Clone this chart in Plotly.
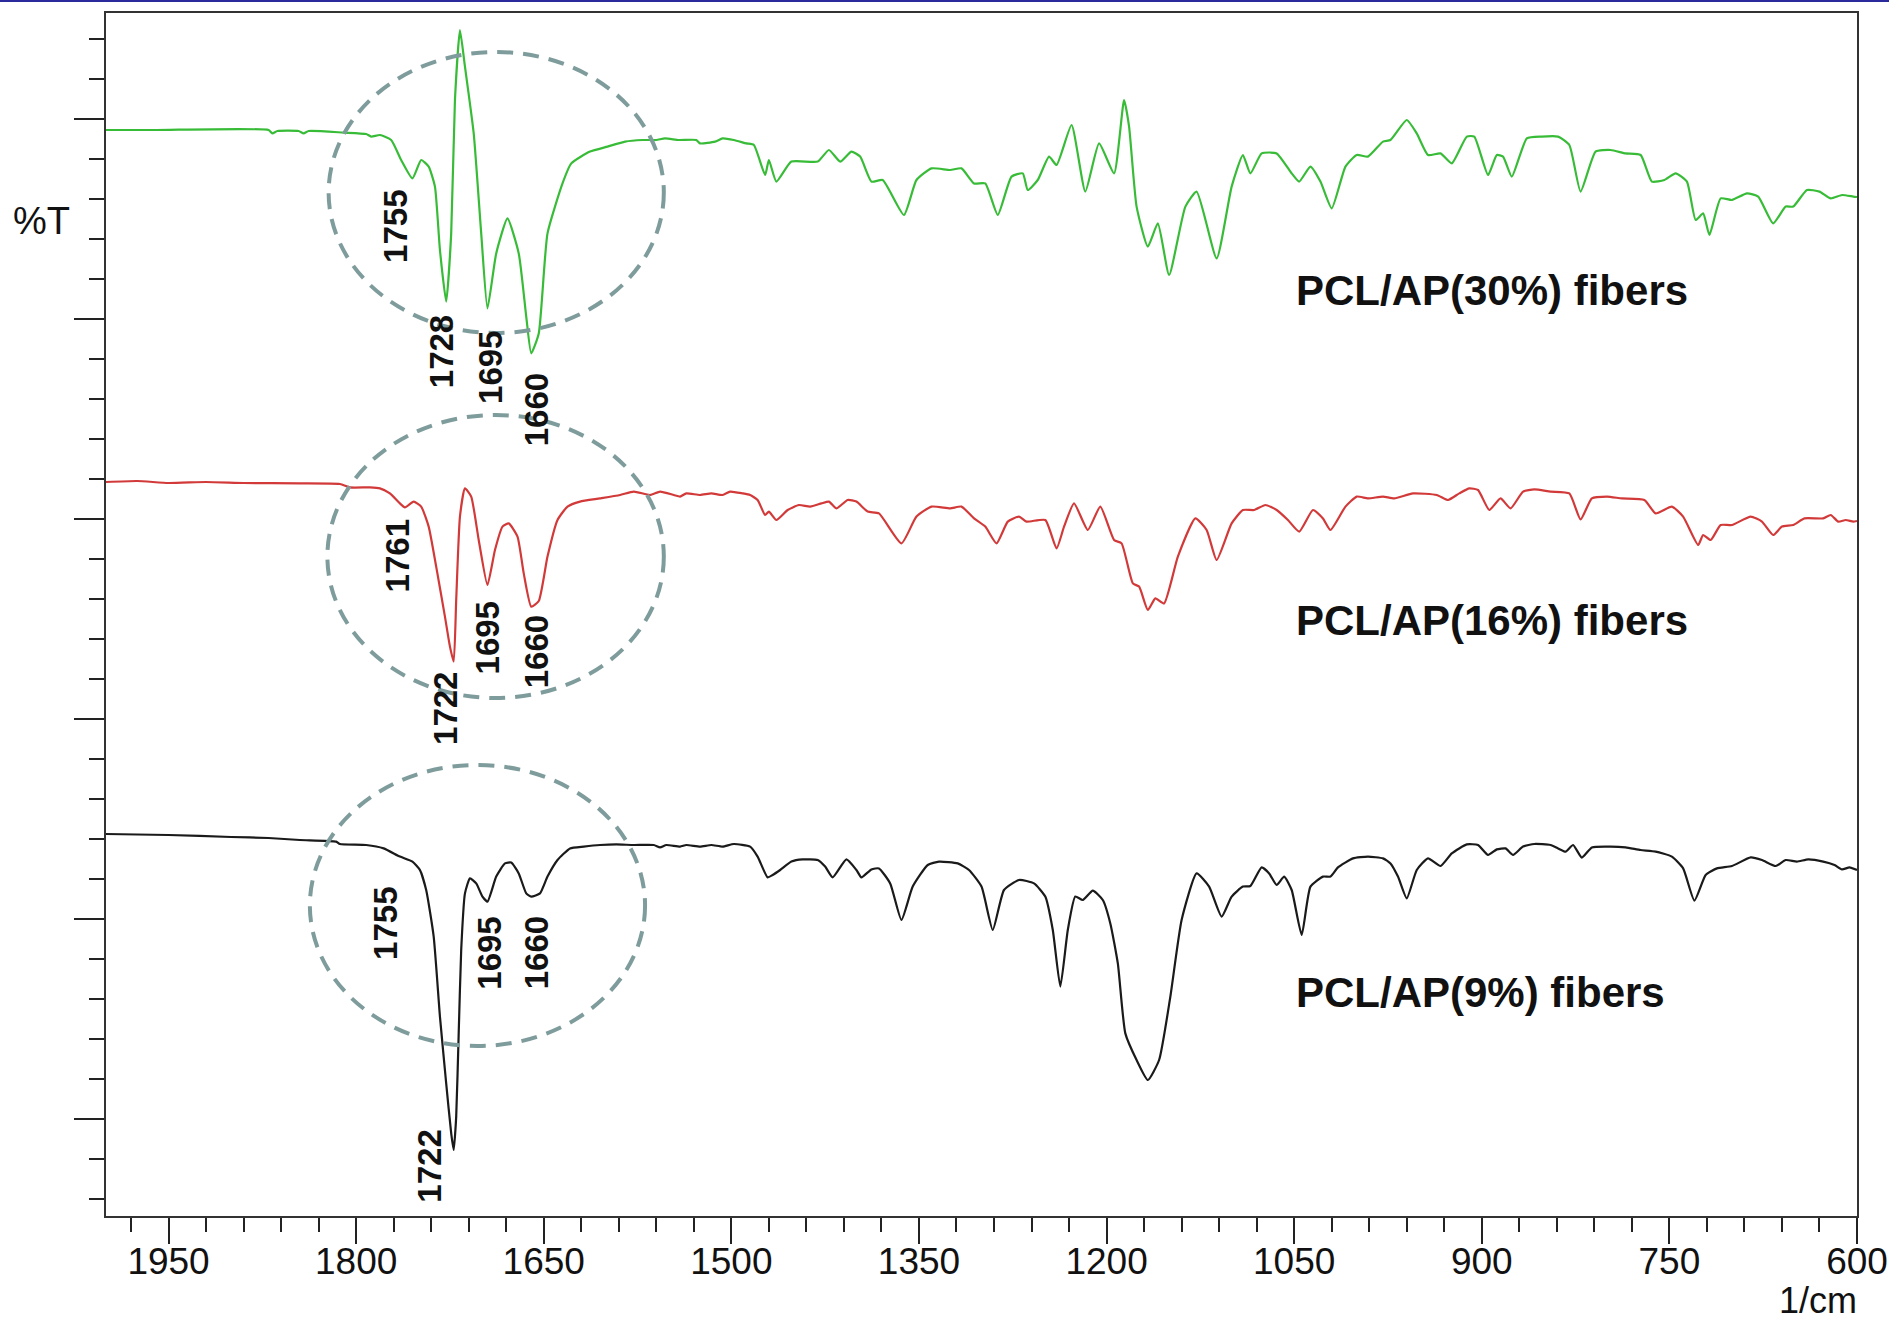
import plotly.graph_objects as go

# ---------------- FTIR spectra (wavenumber in 1/cm, transmittance in %T units) ----------------
wn_30 = [2000, 1960, 1870, 1867, 1863, 1846, 1842, 1838, 1810, 1792, 1788, 1781, 1772, 1764,
         1755, 1748, 1742, 1737, 1733, 1728, 1724, 1721, 1717, 1713, 1706, 1700, 1695, 1688,
         1679, 1670, 1664, 1660, 1654, 1647, 1635, 1628, 1613, 1599, 1585, 1571, 1560, 1553,
         1542, 1528, 1525, 1513, 1507, 1498, 1488, 1482, 1473, 1470, 1464, 1452, 1431, 1422,
         1413, 1404, 1397, 1388, 1379, 1362, 1352, 1340, 1325, 1316, 1306, 1297, 1287, 1276,
         1267, 1263, 1255, 1246, 1240, 1228, 1217, 1206, 1194, 1186, 1182, 1176, 1167, 1159,
         1150, 1137, 1128, 1112, 1100, 1091, 1085, 1076, 1064, 1052, 1046, 1037, 1029, 1020,
         1009, 1000, 991, 979, 973, 960, 952, 943, 933, 924, 912, 906, 895, 888, 883, 876, 864,
         852, 839, 830, 821, 809, 797, 785, 773, 764, 754, 745, 736, 729, 723, 718, 709, 700,
         688, 679, 667, 657, 651, 640, 630, 621, 612, 603, 600]
t_30 = [59.45, 59.45, 59.45, 59.28, 59.40, 59.40, 59.28, 59.40, 59.32, 59.25, 59.12, 59.20, 58.95, 57.95,
        57.03, 57.95, 57.62, 56.62, 53.45, 50.87, 54.28, 60.95, 64.45, 62.62, 59.28, 54.28, 50.53, 53.28,
        55.03, 53.28, 50.12, 48.28, 49.28, 54.28, 56.78, 57.78, 58.37, 58.62, 58.87, 58.95, 58.95, 59.03,
        58.95, 58.95, 58.78, 58.87, 59.03, 58.95, 58.78, 58.70, 57.20, 57.95, 56.87, 57.87, 57.87, 58.45,
        57.87, 58.37, 58.12, 56.87, 56.95, 55.20, 56.95, 57.53, 57.45, 57.53, 56.78, 56.78, 55.20, 57.12,
        57.28, 56.45, 56.95, 58.12, 57.70, 59.70, 56.37, 58.78, 57.28, 60.95, 59.62, 55.62, 53.62, 54.78,
        52.20, 55.62, 56.37, 53.03, 56.62, 58.20, 57.28, 58.28, 58.28, 57.28, 56.87, 57.62, 56.87, 55.53,
        57.62, 58.20, 58.12, 58.87, 58.95, 59.95, 59.28, 58.20, 58.28, 57.78, 59.12, 59.12, 57.20, 58.20,
        58.12, 57.12, 59.03, 59.12, 59.12, 58.70, 56.37, 58.37, 58.45, 58.28, 58.20, 56.87, 56.95, 57.28,
        56.87, 54.95, 55.28, 54.20, 56.03, 55.95, 56.28, 56.12, 54.78, 55.62, 55.62, 56.45, 56.37, 56.03,
        56.20, 56.12, 56.10]

wn_16 = [2000, 1975, 1950, 1920, 1890, 1845, 1813, 1805, 1789, 1781, 1773, 1765, 1761, 1754,
         1748, 1742, 1736, 1729, 1725, 1722, 1720, 1717, 1713, 1708, 1702, 1695, 1689, 1683,
         1678, 1671, 1666, 1660, 1654, 1647, 1639, 1631, 1621, 1605, 1589, 1578, 1565, 1557,
         1546, 1541, 1536, 1525, 1516, 1507, 1501, 1491, 1485, 1479, 1473, 1470, 1464, 1455,
         1446, 1437, 1428, 1422, 1416, 1407, 1400, 1391, 1382, 1364, 1352, 1340, 1325, 1316,
         1306, 1297, 1288, 1279, 1270, 1264, 1249, 1240, 1234, 1226, 1215, 1205, 1194, 1188,
         1179, 1174, 1167, 1161, 1154, 1143, 1129, 1120, 1112, 1100, 1091, 1082, 1073, 1064,
         1055, 1046, 1035, 1027, 1021, 1009, 1000, 991, 979, 970, 955, 936, 927, 918, 910, 903,
         894, 885, 877, 867, 858, 845, 830, 821, 812, 800, 788, 770, 761, 748, 739, 727, 723,
         717, 709, 700, 685, 676, 667, 660, 651, 642, 627, 621, 615, 609, 603, 600]
t_16 = [41.85, 41.90, 41.80, 41.85, 41.80, 41.78, 41.75, 41.58, 41.58, 41.53, 41.28, 40.78, 40.58, 40.87,
        40.62, 39.62, 37.62, 35.12, 33.62, 32.87, 35.95, 40.12, 41.53, 41.12, 38.95, 36.70, 38.45, 39.62,
        39.78, 39.12, 37.28, 35.62, 35.90, 38.12, 39.95, 40.62, 40.87, 41.03, 41.20, 41.37, 41.20, 41.37,
        41.20, 41.12, 41.28, 41.20, 41.28, 41.20, 41.37, 41.28, 41.20, 40.95, 40.20, 40.37, 39.95, 40.45,
        40.70, 40.62, 40.78, 40.87, 40.53, 40.95, 40.87, 40.37, 40.28, 38.78, 40.12, 40.62, 40.53, 40.62,
        40.03, 39.62, 38.78, 39.87, 40.12, 39.87, 39.95, 38.53, 39.62, 40.78, 39.45, 40.62, 38.95, 38.78,
        36.78, 36.62, 35.45, 36.03, 35.78, 38.12, 40.03, 39.45, 37.95, 39.78, 40.45, 40.45, 40.70, 40.45,
        39.95, 39.37, 40.45, 40.03, 39.45, 40.62, 41.12, 41.03, 41.12, 41.03, 41.28, 41.20, 40.95, 41.28,
        41.53, 41.45, 40.45, 41.03, 40.53, 41.37, 41.48, 41.37, 41.28, 39.98, 41.03, 41.12, 41.03, 40.95,
        40.28, 40.62, 40.12, 38.70, 39.20, 38.95, 39.70, 39.70, 40.12, 39.87, 39.20, 39.62, 39.70, 40.03,
        40.03, 40.20, 39.87, 39.95, 39.87, 39.90]

wn_9 = [2000, 1950, 1900, 1870, 1845, 1816, 1813, 1792, 1778, 1765, 1755, 1749, 1744, 1738,
        1733, 1728, 1724, 1722, 1720, 1718, 1716, 1713, 1709, 1704, 1699, 1695, 1688, 1681,
        1676, 1670, 1664, 1660, 1653, 1647, 1639, 1629, 1618, 1605, 1592, 1578, 1562, 1557,
        1552, 1541, 1536, 1525, 1516, 1507, 1498, 1485, 1479, 1471, 1467, 1461, 1452, 1443,
        1431, 1425, 1419, 1408, 1400, 1396, 1388, 1382, 1373, 1364, 1355, 1343, 1334, 1319,
        1310, 1300, 1291, 1282, 1270, 1258, 1249, 1243, 1237, 1231, 1225, 1219, 1211, 1203,
        1197, 1191, 1185, 1176, 1167, 1158, 1149, 1140, 1128, 1118, 1108, 1100, 1091, 1085,
        1076, 1070, 1064, 1058, 1052, 1044, 1037, 1027, 1021, 1015, 1003, 991, 979, 973, 967,
        960, 952, 943, 933, 924, 912, 903, 895, 888, 881, 875, 867, 858, 845, 839, 833, 827,
        820, 812, 797, 785, 773, 761, 748, 739, 730, 721, 712, 700, 685, 676, 665, 657, 648,
        639, 627, 618, 612, 606, 600]
t_9 = [24.25, 24.20, 24.10, 24.05, 23.95, 23.87, 23.75, 23.70, 23.53, 23.12, 22.87, 22.45, 21.45, 19.12,
       15.12, 11.78, 9.28, 8.45, 10.12, 14.28, 18.45, 21.28, 22.03, 21.78, 21.12, 20.87, 22.12, 22.78,
       22.82, 22.28, 21.28, 21.12, 21.28, 22.12, 22.95, 23.53, 23.62, 23.70, 23.73, 23.70, 23.70, 23.58,
       23.70, 23.62, 23.70, 23.62, 23.70, 23.62, 23.75, 23.62, 23.12, 22.08, 22.20, 22.45, 22.87, 22.98,
       22.95, 22.62, 22.08, 22.98, 22.45, 22.08, 22.48, 22.53, 21.78, 19.95, 21.62, 22.70, 22.87, 22.78,
       22.45, 21.62, 19.45, 21.45, 21.95, 21.78, 21.12, 19.45, 16.62, 19.45, 21.12, 20.95, 21.42, 20.95,
       19.78, 17.78, 14.28, 12.95, 11.95, 12.95, 16.12, 19.95, 22.28, 21.62, 20.12, 21.12, 21.62, 21.65,
       22.58, 22.28, 21.70, 22.12, 21.45, 19.20, 21.62, 22.12, 22.12, 22.58, 23.03, 23.12, 23.03, 22.78,
       22.12, 21.03, 22.45, 23.03, 22.65, 23.28, 23.73, 23.70, 23.20, 23.48, 23.53, 23.20, 23.62, 23.75,
       23.70, 23.53, 23.37, 23.70, 23.07, 23.58, 23.62, 23.58, 23.45, 23.37, 23.12, 22.53, 20.92, 22.20,
       22.53, 22.65, 23.08, 22.95, 22.65, 22.95, 22.87, 22.98, 22.87, 22.70, 22.48, 22.58, 22.45]

# Marked carbonyl-region bands for each sample
peaks_30 = [1755, 1728, 1695, 1660]
peaks_16 = [1761, 1722, 1695, 1660]
peaks_9 = [1755, 1722, 1695, 1660]

sample_names = ["PCL/AP(30%) fibers", "PCL/AP(16%) fibers", "PCL/AP(9%) fibers"]

# ---------------- styling / placement ----------------
FONT = "Liberation Sans, Arial, Helvetica, sans-serif"
colors = ["#38bc38", "#d23a3a", "#1a1a1a"]
spectra = [(wn_30, t_30), (wn_16, t_16), (wn_9, t_9)]
peak_sets = [peaks_30, peaks_16, peaks_9]

# label anchor points (x in 1/cm, y in %T) for peak numbers, one tuple per peak
peak_label_pos = [
    [(1769, 54.65), (1732, 48.35), (1693, 47.6), (1656, 45.45)],
    [(1767, 38.15), (1729, 30.55), (1695, 34.05), (1656, 33.35)],
    [(1777, 19.8), (1742, 7.65), (1694, 18.3), (1656, 18.3)],
]
name_label_pos = [(1050, 51.45), (1050, 34.95), (1050, 16.35)]
# dashed ellipses around the carbonyl bands: (x0, x1, y0, y1)
ellipses = [(1822, 1554, 49.3, 63.35), (1823, 1554, 31.05, 45.2), (1837, 1569, 13.65, 27.7)]

fig = go.Figure()
for (wn, t), c in zip(spectra, colors):
    fig.add_trace(go.Scatter(x=wn, y=t, mode="lines",
                             line=dict(color=c, width=2.2, shape="spline", smoothing=0.5),
                             showlegend=False, hoverinfo="x+y"))

annotations = []
for peaks, positions in zip(peak_sets, peak_label_pos):
    for p, (ax, ay) in zip(peaks, positions):
        annotations.append(dict(x=ax, y=ay, xref="x", yref="y", text="<b>%d</b>" % p,
                                textangle=-90, showarrow=False,
                                xanchor="center", yanchor="middle",
                                font=dict(family=FONT, size=33, color="#111111")))
for name, (ax, ay) in zip(sample_names, name_label_pos):
    annotations.append(dict(x=ax, y=ay, xref="x", yref="y", text="<b>%s</b>" % name,
                            showarrow=False, xanchor="left", yanchor="middle",
                            font=dict(family=FONT, size=42, color="#111111")))

annotations.append(dict(x=-0.0366, y=0.827, xref="paper", yref="paper", text="%T",
                        showarrow=False, xanchor="center", yanchor="middle",
                        font=dict(family=FONT, size=38, color="#111111")))
annotations.append(dict(x=1.0011, y=-0.0702, xref="paper", yref="paper", text="1/cm",
                        showarrow=False, xanchor="right", yanchor="middle",
                        font=dict(family=FONT, size=36, color="#111111")))

shapes = []
for x0, x1, y0, y1 in ellipses:
    shapes.append(dict(type="circle", xref="x", yref="y", x0=x0, x1=x1, y0=y0, y1=y1,
                       line=dict(color="#7f9c9c", width=4, dash="16px,10px"),
                       layer="above"))
# thin blue rule along the top edge of the page
shapes.append(dict(type="line", xref="paper", yref="paper", x0=-0.07, x1=1.02,
                   y0=1.0100, y1=1.0100, line=dict(color="#2a2a9c", width=2)))

axis_common = dict(showgrid=False, zeroline=False, showline=True, linecolor="#333333",
                   linewidth=2, mirror=True, ticks="outside", tickcolor="#222222",
                   tickwidth=2, automargin=False)

fig.update_layout(
    width=1889, height=1323,
    margin=dict(l=106, r=32, t=13, b=107, autoexpand=False),
    paper_bgcolor="white", plot_bgcolor="white",
    xaxis=dict(range=[2000, 600], tick0=600, dtick=150, ticklen=26, ticklabelstandoff=-14,
               tickfont=dict(family=FONT, size=37, color="#111111"),
               minor=dict(tick0=600, dtick=30, ticklen=14, tickwidth=2,
                          tickcolor="#222222", ticks="outside"),
               **axis_common),
    yaxis=dict(range=[5.15, 65.3], tick0=0, dtick=10, ticklen=30, showticklabels=False,
               minor=dict(tick0=0, dtick=2, ticklen=15, tickwidth=2,
                          tickcolor="#222222", ticks="outside"),
               **axis_common),
    annotations=annotations,
    shapes=shapes,
)

fig.write_html("out.html")
